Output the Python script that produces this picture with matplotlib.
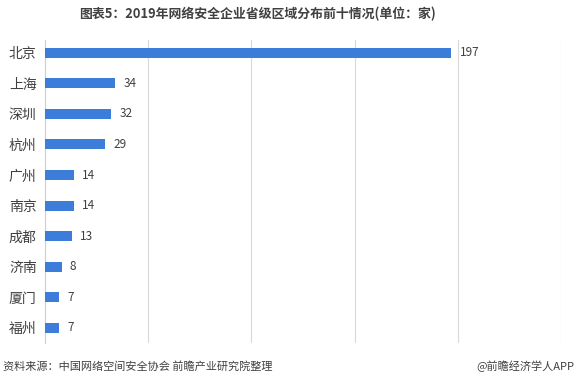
import matplotlib.pyplot as plt

plt.rcParams['font.family'] = ['Noto Sans CJK SC', 'DejaVu Sans']

cities = ['北京', '上海', '深圳', '杭州', '广州', '南京', '成都', '济南', '厦门', '福州']
counts = [197, 34, 32, 29, 14, 14, 13, 8, 7, 7]

fig = plt.figure(figsize=(5.77, 3.80), dpi=100)
ax = fig.add_axes([0.078, 0.097, 0.894, 0.798])

ax.barh(range(len(cities)), counts, height=0.33, color='#3b7dd8', zorder=3)
for i, v in enumerate(counts):
    ax.text(v + 4, i, str(v), va='center', ha='left', fontsize=8.5, color='#404040')

ax.set_xlim(0, 250)
ax.set_ylim(9.5, -0.42)
ax.set_xticks([0, 50, 100, 150, 200, 250])
ax.set_xticklabels([])
ax.tick_params(axis='x', length=0)
ax.set_yticks(range(len(cities)))
ax.set_yticklabels(cities, fontsize=10, color='#404040')
ax.tick_params(axis='y', length=0, pad=6)
ax.grid(axis='x', color='#d9d9d9', linewidth=0.8, zorder=0)
for s in ['top', 'right', 'bottom']:
    ax.spines[s].set_visible(False)
ax.spines['left'].set_color('#d0d0d0')

fig.text(0.447, 0.962, '图表5：2019年网络安全企业省级区域分布前十情况(单位：家)',
         ha='center', va='center', fontsize=9.3, fontweight='bold', color='#404040')
fig.text(0.005, 0.037, '资料来源：中国网络空间安全协会 前瞻产业研究院整理',
         ha='left', va='center', fontsize=8, color='#404040')
fig.text(0.995, 0.037, '@前瞻经济学人APP',
         ha='right', va='center', fontsize=8, color='#404040')

fig.savefig('out.png', dpi=100)
